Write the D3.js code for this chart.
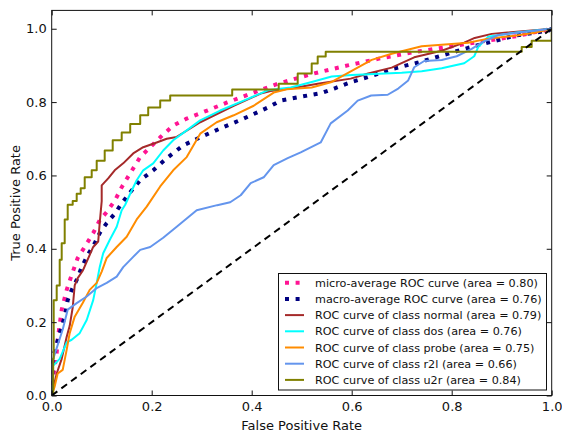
<!DOCTYPE html>
<html>
<head>
<meta charset="utf-8">
<script src="https://cdn.jsdelivr.net/npm/d3@7"></script>
<style>
  body { margin: 0; background: #fff; }
  text { font-family: "DejaVu Sans", sans-serif; fill: #111; }
</style>
</head>
<body>
<div id="chart"></div>
<script>
/* ROC curves per class, plus micro / macro averages */

// [false positive rate, true positive rate]
const microAvg = [[0,0],[0.004,0.06],[0.01,0.117],[0.012,0.152],[0.02,0.234],[0.03,0.288],[0.04,0.329],[0.052,0.375],[0.066,0.405],[0.083,0.443],[0.096,0.478],[0.11,0.5],[0.127,0.533],[0.14,0.568],[0.157,0.606],[0.177,0.65],[0.197,0.677],[0.217,0.704],[0.243,0.736],[0.27,0.755],[0.311,0.777],[0.351,0.799],[0.404,0.826],[0.452,0.85],[0.524,0.878],[0.592,0.9],[0.66,0.92],[0.72,0.935],[0.79,0.95],[0.86,0.965],[0.93,0.98],[1,1]];
const macroAvg = [[0,0],[0.002,0.1],[0.016,0.17],[0.026,0.215],[0.032,0.26],[0.04,0.288],[0.05,0.315],[0.06,0.35],[0.072,0.383],[0.086,0.415],[0.096,0.443],[0.11,0.47],[0.127,0.497],[0.14,0.524],[0.157,0.554],[0.177,0.587],[0.203,0.614],[0.23,0.647],[0.263,0.682],[0.297,0.704],[0.337,0.728],[0.384,0.755],[0.432,0.785],[0.458,0.804],[0.5,0.815],[0.54,0.825],[0.565,0.837],[0.6,0.855],[0.632,0.868],[0.68,0.89],[0.733,0.908],[0.833,0.948],[0.926,0.981],[0.994,0.995],[1,1]];
const rocNormal = [[0,0],[0.01,0.06],[0.02,0.1],[0.03,0.16],[0.036,0.19],[0.042,0.24],[0.046,0.3],[0.052,0.32],[0.062,0.34],[0.083,0.405],[0.093,0.42],[0.096,0.47],[0.1,0.53],[0.1,0.573],[0.113,0.592],[0.126,0.614],[0.143,0.633],[0.163,0.66],[0.183,0.677],[0.21,0.69],[0.23,0.7],[0.25,0.705],[0.297,0.745],[0.364,0.79],[0.418,0.823],[0.438,0.83],[0.478,0.837],[0.532,0.85],[0.598,0.864],[0.633,0.878],[0.68,0.894],[0.725,0.922],[0.78,0.94],[0.825,0.962],[0.846,0.975],[0.88,0.986],[1,1]];
const rocDos = [[0,0],[0.002,0.08],[0.016,0.1],[0.03,0.145],[0.04,0.152],[0.056,0.17],[0.07,0.206],[0.083,0.26],[0.09,0.307],[0.096,0.35],[0.103,0.388],[0.116,0.424],[0.13,0.46],[0.14,0.505],[0.147,0.52],[0.157,0.55],[0.17,0.587],[0.183,0.614],[0.203,0.633],[0.223,0.668],[0.243,0.696],[0.27,0.723],[0.297,0.75],[0.337,0.777],[0.384,0.804],[0.432,0.832],[0.478,0.84],[0.52,0.855],[0.56,0.87],[0.6,0.874],[0.7,0.88],[0.74,0.884],[0.78,0.892],[0.825,0.906],[0.845,0.925],[0.853,0.95],[0.873,0.978],[0.926,0.989],[1,1]];
const rocProbe = [[0,0],[0.006,0.025],[0.012,0.06],[0.022,0.07],[0.03,0.125],[0.036,0.17],[0.046,0.215],[0.062,0.252],[0.076,0.288],[0.09,0.307],[0.1,0.338],[0.11,0.375],[0.13,0.405],[0.15,0.433],[0.17,0.48],[0.19,0.515],[0.217,0.57],[0.243,0.614],[0.27,0.65],[0.297,0.714],[0.33,0.745],[0.364,0.764],[0.404,0.79],[0.444,0.826],[0.47,0.835],[0.52,0.84],[0.56,0.855],[0.6,0.885],[0.64,0.915],[0.68,0.932],[0.74,0.952],[0.833,0.962],[0.873,0.973],[0.926,0.981],[0.966,0.989],[1,1]];
const rocR2l = [[0,0],[0.003,0.1],[0.022,0.18],[0.032,0.234],[0.05,0.252],[0.07,0.27],[0.09,0.293],[0.11,0.307],[0.13,0.324],[0.143,0.35],[0.163,0.378],[0.177,0.397],[0.197,0.405],[0.223,0.43],[0.25,0.46],[0.29,0.505],[0.331,0.519],[0.357,0.527],[0.378,0.546],[0.398,0.579],[0.424,0.595],[0.444,0.628],[0.472,0.647],[0.498,0.663],[0.538,0.69],[0.558,0.742],[0.592,0.777],[0.612,0.804],[0.639,0.818],[0.672,0.82],[0.693,0.837],[0.713,0.859],[0.725,0.895],[0.745,0.912],[0.78,0.915],[0.81,0.925],[0.84,0.945],[0.86,0.962],[0.893,0.983],[1,1]];
// u2r is a staircase: each point is the corner reached after a horizontal run
const rocU2r = [[0,0],[0.003,0.1],[0.004,0.26],[0.01,0.3],[0.016,0.37],[0.02,0.415],[0.026,0.48],[0.032,0.52],[0.042,0.53],[0.05,0.55],[0.058,0.565],[0.066,0.595],[0.08,0.614],[0.09,0.64],[0.106,0.668],[0.122,0.696],[0.14,0.717],[0.157,0.74],[0.177,0.764],[0.193,0.785],[0.217,0.804],[0.237,0.818],[0.361,0.834],[0.454,0.85],[0.492,0.878],[0.52,0.905],[0.532,0.924],[0.548,0.9375],[0.94,0.95],[0.96,0.967],[1,1]];
const chance = [[0,0],[1,1]];

const legendLabels = [
    "micro-average ROC curve (area = 0.80)",
    "macro-average ROC curve (area = 0.76)",
    "ROC curve of class normal (area = 0.79)",
    "ROC curve of class dos (area = 0.76)",
    "ROC curve of class probe (area = 0.75)",
    "ROC curve of class r2l (area = 0.66)",
    "ROC curve of class u2r (area = 0.84)"
];
const xTicks = [0, 0.2, 0.4, 0.6, 0.8, 1.0];
const yTicks = [0, 0.2, 0.4, 0.6, 0.8, 1.0];

const width = 562,
      height = 435,
      margin = ({ top: 10.4, right: 10.3, bottom: 39.5, left: 51.7 });

const svg = d3.select("#chart")
    .append("svg")
    .attr("width", width)
    .attr("height", height);

const x = d3.scaleLinear()
    .domain([0, 1])
    .range([margin.left, width - margin.right]);

const y = d3.scaleLinear()
    .domain([0, 1.05])
    .range([height - margin.bottom, margin.top]);

svg.append("clipPath").attr("id", "plot-area")
    .append("rect")
    .attr("x", x(0)).attr("y", y(1.05))
    .attr("width", x(1) - x(0)).attr("height", y(0) - y(1.05));

const line = d3.line().x(d => x(d[0])).y(d => y(d[1]));

// one entry per drawn curve, in matplotlib plotting order
const series = [
    { data: microAvg, color: "deeppink", lw: 4, dash: "4,6.6" },
    { data: macroAvg, color: "navy", lw: 4, dash: "4,6.6" },
    { data: rocNormal, color: "#a52a2a", lw: 2 },
    { data: rocDos, color: "aqua", lw: 2 },
    { data: rocProbe, color: "darkorange", lw: 2 },
    { data: rocR2l, color: "cornflowerblue", lw: 2 },
    { data: rocU2r, color: "olive", lw: 2, step: true }
];

const plot = svg.append("g").attr("clip-path", "url(#plot-area)");

series.forEach(s => {
    plot.append("path")
        .datum(s.data)
        .attr("fill", "none")
        .attr("stroke", s.color)
        .attr("stroke-width", s.lw)
        .attr("stroke-dasharray", s.dash || null)
        .attr("stroke-linejoin", "round")
        .attr("d", s.step ? line.curve(d3.curveStepAfter)(s.data) : line.curve(d3.curveLinear)(s.data));
});

plot.append("path") // chance diagonal
    .attr("fill", "none")
    .attr("stroke", "black")
    .attr("stroke-width", 2)
    .attr("stroke-dasharray", "7,5")
    .attr("d", line.curve(d3.curveLinear)(chance));

// axes, ticks pointing inward on all four sides
const fmt = d3.format(".1f");

const xAxis = g => g
    .attr("transform", `translate(0,${y(0)})`)
    .call(d3.axisBottom(x).tickValues(xTicks).tickFormat(fmt).tickSizeInner(-5).tickSizeOuter(0).tickPadding(6));
const yAxis = g => g
    .attr("transform", `translate(${x(0)},0)`)
    .call(d3.axisLeft(y).tickValues(yTicks).tickFormat(fmt).tickSizeInner(-5).tickSizeOuter(0).tickPadding(5));
const topAxis = g => g
    .attr("transform", `translate(0,${y(1.05)})`)
    .call(d3.axisTop(x).tickValues(xTicks).tickFormat("").tickSizeInner(-5).tickSizeOuter(0));
const rightAxis = g => g
    .attr("transform", `translate(${x(1)},0)`)
    .call(d3.axisRight(y).tickValues(yTicks).tickFormat("").tickSizeInner(-5).tickSizeOuter(0));

[xAxis, yAxis, topAxis, rightAxis].forEach(a => {
    svg.append("g").call(a)
        .call(g => g.select(".domain").remove())
        .call(g => g.selectAll(".tick line").attr("stroke", "#111"))
        .call(g => g.selectAll("text").style("font-size", "13px").style("font-family", "DejaVu Sans").attr("fill", "#111"));
});

svg.append("rect") // spines
    .attr("x", x(0)).attr("y", y(1.05))
    .attr("width", x(1) - x(0)).attr("height", y(0) - y(1.05))
    .attr("fill", "none")
    .attr("stroke", "#111")
    .attr("stroke-width", 1);

svg.append("text")
    .attr("x", (x(0) + x(1)) / 2)
    .attr("y", 430)
    .attr("text-anchor", "middle")
    .style("font-size", "13px")
    .text("False Positive Rate");

svg.append("text")
    .attr("transform", `translate(20,${(y(0) + y(1.05)) / 2}) rotate(-90)`)
    .attr("text-anchor", "middle")
    .style("font-size", "13px")
    .text("True Positive Rate");

// legend, lower right
const legend = svg.append("g");
legend.append("rect")
    .attr("x", 278.5).attr("y", 273.5)
    .attr("width", 268).attr("height", 116.5)
    .attr("fill", "white")
    .attr("stroke", "#111")
    .attr("stroke-width", 1);

const row = legend.selectAll(".row")
    .data(series)
    .join("g")
    .attr("class", "row")
    .attr("transform", (d, i) => `translate(0,${282.7 + i * 16.2})`);

row.append("line")
    .attr("x1", 285).attr("x2", 304)
    .attr("stroke", d => d.color)
    .attr("stroke-width", d => d.lw)
    .attr("stroke-dasharray", d => d.dash || null);

row.append("text")
    .attr("x", 315)
    .attr("dy", "0.36em")
    .style("font-size", "11.2px")
    .text((d, i) => legendLabels[i]);
</script>
</body>
</html>
